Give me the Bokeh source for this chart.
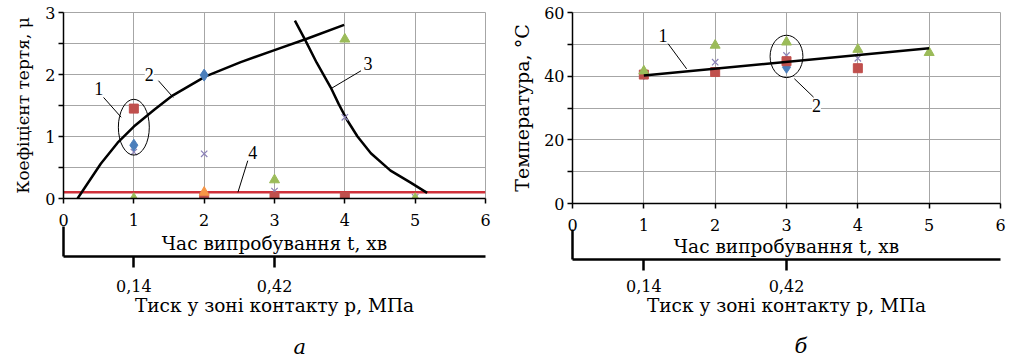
from bokeh.plotting import figure
from bokeh.models import FixedTicker, LinearAxis, Range1d, Title, ColumnDataSource, LabelSet
from bokeh.layouts import row
from bokeh.embed import file_html
from bokeh.resources import INLINE

FONT = "DejaVu Serif"
GRID = "#A6A6A6"
BLUE = "#4A7EBB"
RED = "#C0504D"
GREEN = "#9BBB59"
PURPLE = "#8C82B8"
ORANGE = "#F79646"
LIMIT_RED = "#D0313A"

# ---------------- data: panel a (friction coefficient) ----------------
time_ticks = [0, 1, 2, 3, 4, 5, 6]
pressure_tick_pos = [1, 3]
pressure_tick_labels = ["0,14", "0,42"]

a_blue_t = [1, 2]
a_blue_mu = [0.86, 1.99]
a_red_t = [1, 2, 3, 4]
a_red_mu = [1.45, 0.03, 0.03, 0.03]
a_green_t = [1, 3, 4, 5]
a_green_mu = [0.0, 0.3, 2.57, 0.0]
a_orange_t = [2]
a_orange_mu = [0.1]
a_purple_t = [1, 2, 3, 4, 5]
a_purple_mu = [0.75, 0.72, 0.12, 1.31, 0.02]

curve2_t = [0.2, 0.53, 0.77, 1.0, 1.29, 1.55, 2.02, 2.52, 2.99, 3.47, 3.99]
curve2_mu = [0.0, 0.56, 0.9, 1.16, 1.43, 1.66, 1.97, 2.2, 2.39, 2.58, 2.8]
curve3_t = [3.29, 3.43, 3.6, 3.8, 3.91, 4.03, 4.18, 4.37, 4.65, 4.93, 5.17]
curve3_mu = [2.87, 2.57, 2.19, 1.79, 1.53, 1.27, 1.0, 0.73, 0.45, 0.26, 0.09]
limit_t = [0, 6]
limit_mu = [0.1, 0.1]

a_labels = ["1", "2", "3", "4"]
a_label_x = [0.5, 1.22, 4.33, 2.69]
a_label_y = [1.77, 2.0, 2.18, 0.74]
a_lead_x0 = [0.57, 1.35, 4.23, 2.62]
a_lead_y0 = [1.63, 1.9, 2.06, 0.61]
a_lead_x1 = [0.82, 1.56, 3.8, 2.48]
a_lead_y1 = [1.31, 1.63, 1.77, 0.1]
a_ell = dict(x=[1.0], y=[1.15], w=[0.44], h=[0.9])

# ---------------- data: panel b (temperature) ----------------
b_green_t = [1, 2, 3, 4, 5]
b_green_T = [41.6, 49.7, 50.7, 48.4, 47.4]
b_red_t = [1, 2, 3, 4]
b_red_T = [40.5, 41.3, 44.7, 42.5]
b_purple_t = [2, 3, 4]
b_purple_T = [44.4, 46.5, 45.6]
b_blue_t = [1, 3]
b_blue_T = [40.8, 42.8]
trend_t = [1, 5]
trend_T = [40.2, 48.8]

b_labels = ["1", "2"]
b_label_x = [1.27, 3.42]
b_label_y = [52.8, 30.7]
b_lead_x0 = [1.34, 3.38]
b_lead_y0 = [50.2, 33.4]
b_lead_x1 = [1.6, 3.11]
b_lead_y1 = [42.3, 39.2]
b_ell = dict(x=[3.0], y=[46.2], w=[0.46], h=[13.3])


def make_panel(frame_w, frame_h, left, right, ymax, yticks, yminor, ylabel, ylab_size,
               ylab_std, caption, main_std, main_lbl_std, spacer, stub_len,
               sec_std, sec_lbl_std, cap_std, cap_offset):
    top = 12
    bottom = 361 - top - frame_h
    p = figure(frame_width=frame_w, frame_height=frame_h,
               min_border_left=left, min_border_right=right,
               min_border_top=top, min_border_bottom=bottom,
               x_range=Range1d(0, 6), y_range=Range1d(0, ymax),
               output_backend="svg", toolbar_location=None)
    p.outline_line_color = GRID
    p.background_fill_color = "white"
    p.border_fill_color = "white"

    xt = FixedTicker(ticks=time_ticks)
    yt = FixedTicker(ticks=yticks, minor_ticks=yminor)
    xa = p.xaxis[0]
    xa.ticker = xt
    p.xgrid[0].ticker = xt
    xa.axis_line_width = 1.5
    xa.axis_line_color = "black"
    xa.major_tick_out = 5
    xa.major_tick_in = 0
    xa.major_tick_line_width = 1.5
    xa.minor_tick_line_color = None
    xa.major_label_text_font = FONT
    xa.major_label_text_font_size = "16px"
    xa.major_label_text_color = "black"
    xa.major_label_standoff = main_std
    xa.axis_label = "Час випробування t, хв"
    xa.axis_label_text_font = FONT
    xa.axis_label_text_font_size = "18.5px"
    xa.axis_label_text_font_style = "normal"
    xa.axis_label_text_color = "black"
    xa.axis_label_standoff = main_lbl_std

    ya = p.yaxis[0]
    ya.ticker = yt
    p.ygrid[0].ticker = yt
    ya.axis_line_width = 1.5
    ya.axis_line_color = "black"
    ya.major_tick_out = 5
    ya.major_tick_in = 0
    ya.minor_tick_out = 5
    ya.minor_tick_in = 0
    ya.major_tick_line_width = 1.5
    ya.minor_tick_line_width = 1.5
    ya.minor_tick_line_color = "black"
    ya.major_label_text_font = FONT
    ya.major_label_text_font_size = "16px"
    ya.major_label_text_color = "black"
    ya.major_label_standoff = 3
    ya.axis_label = ylabel
    ya.axis_label_text_font = FONT
    ya.axis_label_text_font_size = ylab_size
    ya.axis_label_text_font_style = "normal"
    ya.axis_label_text_color = "black"
    ya.axis_label_standoff = ylab_std

    for g in (p.xgrid[0], p.ygrid[0]):
        g.grid_line_color = GRID
        g.grid_line_width = 1
    p.ygrid[0].minor_grid_line_color = GRID
    p.ygrid[0].minor_grid_line_width = 1

    if spacer > 0:
        gap = LinearAxis(ticker=FixedTicker(ticks=[]), axis_line_color=None,
                         major_tick_out=spacer, major_tick_in=0, major_label_standoff=0,
                         major_tick_line_color=None, minor_tick_line_color=None)
        p.add_layout(gap, "below")

    # pressure axis; its minor tick at t = 0 draws the vertical bracket
    sec = LinearAxis(ticker=FixedTicker(ticks=pressure_tick_pos, minor_ticks=[0]),
                     major_label_overrides={k: v for k, v in zip(pressure_tick_pos, pressure_tick_labels)},
                     axis_line_width=2.5, axis_line_color="black",
                     major_tick_out=11, major_tick_in=0,
                     major_tick_line_width=2.5, major_tick_line_color="black",
                     minor_tick_in=stub_len, minor_tick_out=0,
                     minor_tick_line_width=2.5, minor_tick_line_color="black",
                     major_label_text_font=FONT, major_label_text_font_size="16px",
                     major_label_text_color="black", major_label_standoff=sec_std,
                     axis_label="Тиск у зоні контакту p, МПа",
                     axis_label_text_font=FONT, axis_label_text_font_size="18.5px",
                     axis_label_text_font_style="normal", axis_label_text_color="black",
                     axis_label_standoff=sec_lbl_std)
    p.add_layout(sec, "below")

    t = Title(text=caption, align="left", text_font=FONT, text_font_style="italic",
              text_font_size="21px", text_color="black", standoff=cap_std,
              offset=cap_offset)
    p.add_layout(t, "below")
    return p


def annotate(p, labels, lx, ly, x0, y0, x1, y1, ell):
    p.segment(x0=x0, y0=y0, x1=x1, y1=y1, line_color="black", line_width=1)
    p.ellipse(x=ell["x"], y=ell["y"], width=ell["w"], height=ell["h"],
              fill_color=None, line_color="black", line_width=1)
    src = ColumnDataSource(dict(x=lx, y=ly, text=labels))
    p.add_layout(LabelSet(x="x", y="y", text="text", source=src,
                          text_font=FONT, text_font_size="18px", text_color="black",
                          text_align="center", text_baseline="middle",
                          background_fill_color="white"))


# ---------------- panel a ----------------
pa = make_panel(422, 186, 63, 20, 3, [0, 1, 2, 3], [0.5, 1.5, 2.5],
                "Коефіцієнт тертя, μ", "17px", 9, "а", 10, 4, 2, 30, 12, 0, 28, 230)
pa.line(limit_t, limit_mu, line_color=LIMIT_RED, line_width=2.5)
pa.line(curve2_t, curve2_mu, line_color="black", line_width=2.5)
pa.line(curve3_t, curve3_mu, line_color="black", line_width=2.5)
pa.scatter(a_purple_t, a_purple_mu, marker="x", size=9, line_color=PURPLE, line_width=1.2)
pa.scatter(a_blue_t, a_blue_mu, marker="diamond", size=12, fill_color=BLUE, line_color=BLUE)
pa.scatter(a_red_t, a_red_mu, marker="square", size=9, fill_color=RED, line_color=RED)
pa.scatter(a_green_t, a_green_mu, marker="triangle", size=10, fill_color=GREEN, line_color=GREEN)
pa.scatter(a_orange_t, a_orange_mu, marker="triangle", size=10, fill_color=ORANGE, line_color=ORANGE)
annotate(pa, a_labels, a_label_x, a_label_y, a_lead_x0, a_lead_y0, a_lead_x1, a_lead_y1, a_ell)

# ---------------- panel b ----------------
pb = make_panel(428, 191, 67, 11, 60, [0, 20, 40, 60], [10, 30, 50],
                "Температура, °C", "19px", 8, "б", 10, 2, 0, 30, 9, 0, 27, 222)
pb.scatter(b_purple_t, b_purple_T, marker="x", size=9, line_color=PURPLE, line_width=1.2)
pb.scatter(b_blue_t, b_blue_T, marker="diamond", size=12, fill_color=BLUE, line_color=BLUE)
pb.scatter(b_red_t, b_red_T, marker="square", size=9, fill_color=RED, line_color=RED)
pb.scatter(b_green_t, b_green_T, marker="triangle", size=10, fill_color=GREEN, line_color=GREEN)
pb.line(trend_t, trend_T, line_color="black", line_width=2.5)
annotate(pb, b_labels, b_label_x, b_label_y, b_lead_x0, b_lead_y0, b_lead_x1, b_lead_y1, b_ell)

layout = row(pa, pb)
open("out.html", "w").write(file_html(layout, INLINE))
